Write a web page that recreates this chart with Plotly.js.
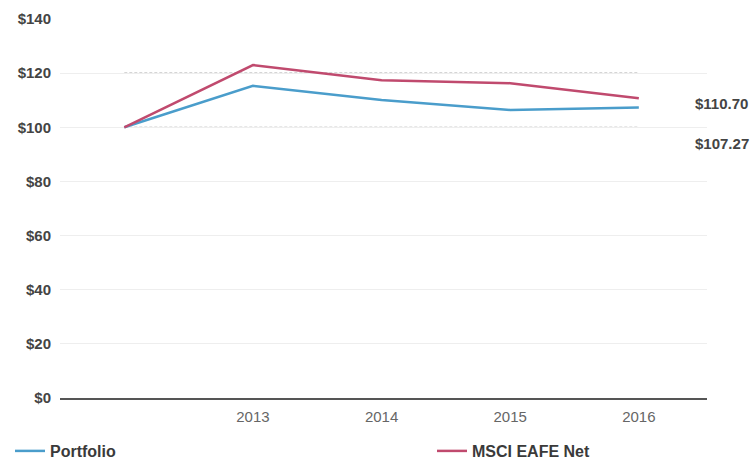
<!DOCTYPE html>
<html>
<head>
<meta charset="utf-8">
<script src="https://cdn.plot.ly/plotly-3.0.1.min.js"></script>
<style>html,body{margin:0;padding:0;background:#fff;}#chart{width:753px;height:459px;}</style>
</head>
<body>
<div id="chart"></div>
<script>
var years = [2012, 2013, 2014, 2015, 2016];
var portfolio = [100, 115.3, 110.1, 106.4, 107.27];
var msci = [100, 123.0, 117.4, 116.3, 110.70];
var tickYears = [2013, 2014, 2015, 2016];
var tickYearLabels = ['2013', '2014', '2015', '2016'];
var yTicks = [0, 20, 40, 60, 80, 100, 120, 140];
var yTickLabels = ['$0', '$20', '$40', '$60', '$80', '$100', '$120', '$140'];
var endLabels = ['$110.70', '$107.27'];
var dottedRefs = [100, 120];

var font = 'Liberation Sans, Arial, sans-serif';

var traces = [
  {x: years, y: portfolio, type: 'scatter', mode: 'lines', name: 'Portfolio', legend: 'legend',
   line: {color: '#4a9dcb', width: 2.5}},
  {x: years, y: msci, type: 'scatter', mode: 'lines', name: 'MSCI EAFE Net', legend: 'legend2',
   line: {color: '#c04a6e', width: 2.5}}
];

var legendFont = {family: font, size: 16, color: '#3a3a3a', weight: 'bold'};

var shapes = dottedRefs.map(function (v) {
  return {type: 'line', xref: 'x', yref: 'y', x0: years[0], x1: years[years.length - 1], y0: v, y1: v,
          line: {color: '#8f8f8f', width: 1, dash: '3px,2px'}, layer: 'below'};
});

var layout = {
  width: 753, height: 459,
  margin: {l: 60, r: 46, t: 19, b: 61},
  paper_bgcolor: '#ffffff', plot_bgcolor: '#ffffff',
  font: {family: font, color: '#444'},
  showlegend: true,
  legend: {orientation: 'h', xref: 'container', yref: 'container', x: 10 / 753, y: 8 / 459,
           xanchor: 'left', yanchor: 'middle', font: legendFont, bgcolor: 'rgba(0,0,0,0)'},
  legend2: {orientation: 'h', xref: 'container', yref: 'container', x: 432 / 753, y: 8 / 459,
            xanchor: 'left', yanchor: 'middle', font: legendFont, bgcolor: 'rgba(0,0,0,0)'},
  xaxis: {range: [2011.5, 2016.53], tickvals: tickYears, ticktext: tickYearLabels,
          showgrid: false, zeroline: false, showline: true, linecolor: '#555', linewidth: 1.5,
          ticks: '', automargin: false, ticklabelstandoff: 4,
          tickfont: {family: font, size: 15, color: '#666'}},
  yaxis: {range: [0, 140], tickvals: yTicks, ticktext: yTickLabels,
          showgrid: true, gridcolor: '#eeeeee', gridwidth: 1, zeroline: false,
          ticks: '', automargin: false, ticklabelstandoff: 8,
          tickfont: {family: font, size: 15, color: '#444', weight: 'bold'}},
  shapes: shapes,
  annotations: [
    {xref: 'paper', yref: 'paper', x: (693 - 60) / 647, y: (398 - 103) / 379, xanchor: 'left', yanchor: 'middle',
     text: endLabels[0], showarrow: false, font: {family: font, size: 15, color: '#444', weight: 'bold'}},
    {xref: 'paper', yref: 'paper', x: (693 - 60) / 647, y: (398 - 143) / 379, xanchor: 'left', yanchor: 'middle',
     text: endLabels[1], showarrow: false, font: {family: font, size: 15, color: '#444', weight: 'bold'}}
  ]
};

Plotly.newPlot('chart', traces, layout, {displayModeBar: false, staticPlot: true});
</script>
</body>
</html>
